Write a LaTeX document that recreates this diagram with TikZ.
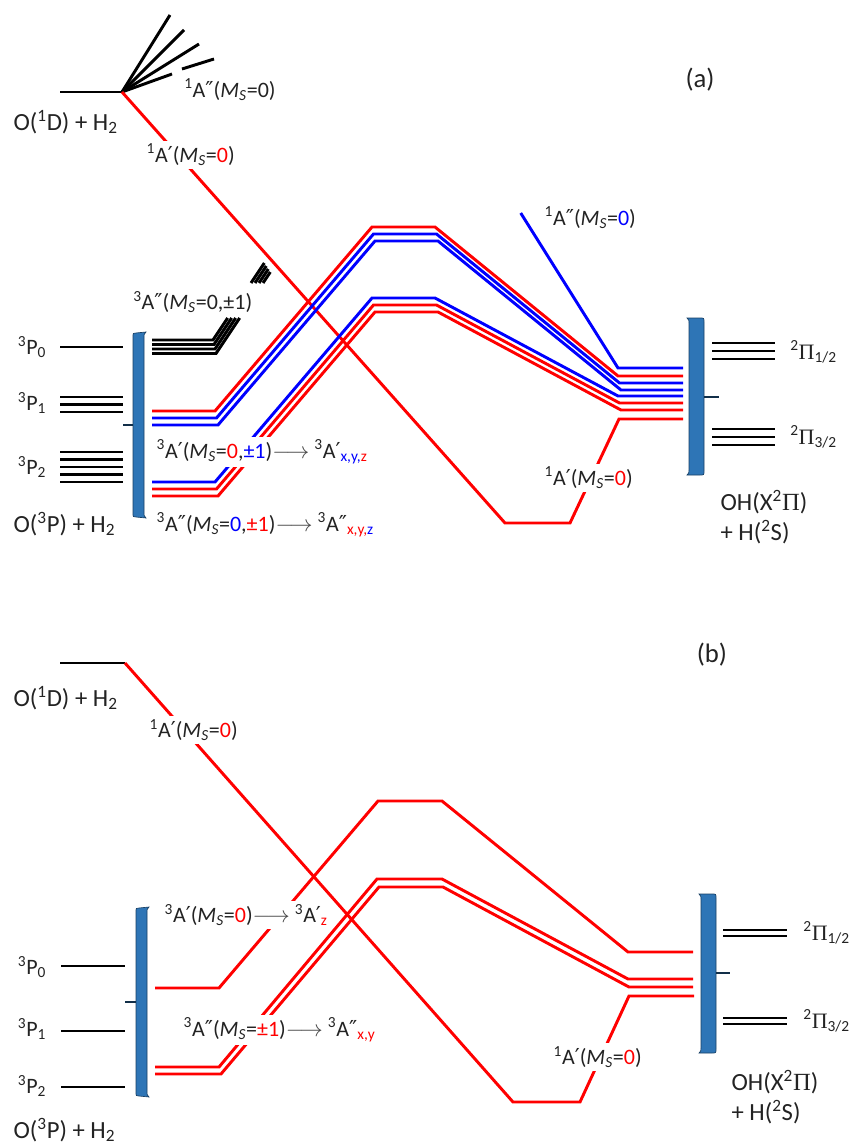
\documentclass[tikz,border=0pt]{standalone}
\usepackage{fontspec}
\setmainfont{Carlito}
\newfontfamily\grk{Liberation Serif}
\newfontfamily\djv{DejaVu Sans}
\definecolor{barblue}{RGB}{46,117,182}
\definecolor{lred}{RGB}{255,0,0}
\definecolor{lblue}{RGB}{0,0,255}
\definecolor{txt}{RGB}{35,35,35}
\definecolor{argray}{RGB}{70,70,70}
\newcommand\MS{\textit{M}\textsubscript{\textit{S}}}
\newcommand\pr{{\djv ′}}
\newcommand\dpr{{\djv ″}}
\newcommand\Pig{{\grk Π}}
\newcommand\arr{\textcolor{argray}{$\longrightarrow$}}
\newcommand\R[1]{\textcolor{lred}{#1}}
\newcommand\B[1]{\textcolor{lblue}{#1}}
\tikzset{
  lev/.style={line width=2.2pt},
  rl/.style={lev, draw=lred},
  bl/.style={lev, draw=lblue},
  kl/.style={lev, draw=black},
  lab/.style={font=\fontsize{16.5}{19}\selectfont, text=txt, inner sep=1.5pt},
  wlab/.style={lab, fill=white, inner sep=2.5pt},
  big/.style={font=\fontsize{18.5}{21}\selectfont, text=txt, inner sep=1pt},
  pan/.style={font=\fontsize{20}{22}\selectfont, text=txt},
  bar/.style={fill=barblue, draw=barblue!55!black, line width=0.5pt},
  tick/.style={draw=barblue!40!black, line width=0.8pt}
}
\begin{document}
\begin{tikzpicture}[x=0.75pt, y=-0.75pt]
\useasboundingbox (0,0) rectangle (851,1145);
\fill[white] (0,0) rectangle (851,1145);

%================ PANEL (a) ================
% O(1D) level and fan
\draw[kl] (60,92) -- (122,92);
\draw[kl] (122,92) -- (170,15);
\draw[kl] (122,92) -- (184,30);
\draw[kl] (122,92) -- (199,44);
\draw[kl] (122,92) -- (172,74);
\draw[kl] (182,69) -- (214,59);
% 1A' red long line
\draw[rl] (122,92) -- (505,523) -- (570,523) -- (619,419) -- (683,419);
% 1A'' blue
\draw[bl] (520.7,213) -- (618,368) -- (683,368);
% 3P levels
\draw[kl] (60,347) -- (123,347);
\foreach \y in {397,404.5,412} \draw[kl] (60,\y) -- (123,\y);
\foreach \y in {452,459.5,467,474.5,482} \draw[kl] (60,\y) -- (123,\y);
% 2Pi levels
\foreach \y in {343,351,359,429,437,445} \draw[kl] (712,\y) -- (775,\y);
% 3A'' black lines (lower visible part and upper tick)
\foreach \k in {0,1,2,3}{
  \pgfmathsetmacro\yy{340+4.5*\k}
  \pgfmathsetmacro\xx{213+\k}
  \pgfmathsetmacro\xa{\xx+(\yy-318)/1.5}
  \pgfmathsetmacro\xb{\xx+(\yy-283)/1.5}
  \pgfmathsetmacro\ye{263+3*\k}
  \pgfmathsetmacro\xc{\xx+(\yy-\ye)/1.5}
  \draw[kl] (152,\yy) -- (\xx,\yy) -- (\xa,318);
  \draw[kl] (\xb,283) -- (\xc,\ye);
}
% upper group
\draw[rl] (152,411) -- (215,411) -- (372,227) -- (435,227) -- (618,376) -- (683,376);
\draw[bl] (152,418) -- (216.5,418) -- (373.5,234) -- (436.5,234) -- (619.5,383) -- (683,383);
\draw[bl] (152,425) -- (218,425) -- (375,241) -- (438,241) -- (621,390) -- (683,390);
% lower group
\draw[bl] (152,482) -- (215,482) -- (372,298) -- (435,298) -- (618,396) -- (683,396);
\draw[rl] (152,489) -- (216.5,489) -- (373.5,305) -- (436.5,305) -- (619.5,403) -- (683,403);
\draw[rl] (152,496) -- (218,496) -- (375,312) -- (438,312) -- (621,410) -- (683,410);
% bars
\filldraw[bar] (136,333) -- (146,332) .. controls (144,334) .. (144,338) -- (144,512) .. controls (144,516) .. (146,518) -- (136,517) .. controls (133,517) .. (133,513) -- (133,337) .. controls (133,333) .. (136,333) -- cycle;
\draw[tick] (133,425) -- (123,425);
\filldraw[bar] (687,318) .. controls (689,320) .. (689,324) -- (689,470) .. controls (689,473) .. (687,475) -- (700,475) .. controls (704,475) .. (704,471) -- (704,322) .. controls (704,318) .. (700,318) -- cycle;
\draw[tick] (704,397) -- (719,397);

% labels (a)
\node[big, anchor=west] (o1da) at (12,122) {O(\textsuperscript{1}D) + H\textsubscript{2}};
\node[lab, anchor=west] (a1ppa) at (182,90) {\textsuperscript{1}A\dpr(\MS=0)};
\node[wlab, anchor=west] (a1pa) at (143,155) {\textsuperscript{1}A\pr(\MS=\R{0})};
\node[pan] (pa) at (700,80) {(a)};
\node[wlab, anchor=west] (a1ppb) at (541,218) {\textsuperscript{1}A\dpr(\MS=\B{0})};
\node[lab] (p0a) at (32,347) {\textsuperscript{3}P\textsubscript{0}};
\node[lab] (p1a) at (32,403) {\textsuperscript{3}P\textsubscript{1}};
\node[lab] (p2a) at (32,467) {\textsuperscript{3}P\textsubscript{2}};
\node[big, anchor=west] (o3pa) at (12,524) {O(\textsuperscript{3}P) + H\textsubscript{2}};
\node[lab, anchor=west] (t3ppa) at (131,302) {\textsuperscript{3}A\dpr(\MS=0,±1)};
\node[wlab, anchor=west] (t3pa) at (153,452) {\textsuperscript{3}A\pr(\MS=\R{0},\B{±1})\arr\ \textsuperscript{3}A\pr\textsubscript{\B{x,y,}\R{z}}};
\node[wlab, anchor=west] (t3ppb) at (153,525) {\textsuperscript{3}A\dpr(\MS=\B{0},\R{±1})\arr\ \textsuperscript{3}A\dpr\textsubscript{\R{x,y,}\B{z}}};
\node[wlab, anchor=west] (a1pc) at (541,478) {\textsuperscript{1}A\pr(\MS=\R{0})};
\node[lab, anchor=west] (pi1a) at (788,352) {\textsuperscript{2}\Pig\textsubscript{1/2}};
\node[lab, anchor=west] (pi3a) at (788,437) {\textsuperscript{2}\Pig\textsubscript{3/2}};
\node[big, anchor=west] (oha) at (719,502) {OH(X\textsuperscript{2}\Pig)};
\node[big, anchor=west] (ha) at (719,532) {+ H(\textsuperscript{2}S)};

%================ PANEL (b) ================
\draw[kl] (60,663) -- (125,663);
\draw[rl] (125,663) -- (513,1102) -- (580,1102) -- (629,996) -- (694,996);
\draw[rl] (155,988) -- (219,988) -- (378,801) -- (442,801) -- (628,952) -- (693,952);
\draw[rl] (155,1067) -- (219,1067) -- (377,879) -- (442,879) -- (628,979) -- (693,979);
\draw[rl] (155,1074) -- (221,1074) -- (379,887) -- (443,887) -- (629,987) -- (693,987);
\foreach \y in {966,1031,1087} \draw[kl] (61,\y) -- (125,\y);
\foreach \y in {930,936,1018,1024} \draw[kl] (723,\y) -- (787,\y);
\filldraw[bar] (139,908) -- (149,907) .. controls (147,909) .. (147,913) -- (147,1091) .. controls (147,1095) .. (149,1097) -- (139,1096) .. controls (136,1096) .. (136,1092) -- (136,912) .. controls (136,908) .. (139,908) -- cycle;
\draw[tick] (136,1002) -- (125,1002);
\filldraw[bar] (699,894) .. controls (701,896) .. (701,900) -- (701,1048) .. controls (701,1051) .. (699,1053) -- (712,1053) .. controls (716,1053) .. (716,1049) -- (716,898) .. controls (716,894) .. (712,894) -- cycle;
\draw[tick] (716,973) -- (730,973);

\node[big, anchor=west] (o1db) at (12,698) {O(\textsuperscript{1}D) + H\textsubscript{2}};
\node[wlab, anchor=west] (b1pa) at (146,730) {\textsuperscript{1}A\pr(\MS=\R{0})};
\node[pan] (pb) at (712,655) {(b)};
\node[wlab, anchor=west] (b3pa) at (161,915) {\textsuperscript{3}A\pr(\MS=\R{0})\arr\ \textsuperscript{3}A\pr\textsubscript{\R{z}}};
\node[wlab, anchor=west] (b3ppa) at (180,1030) {\textsuperscript{3}A\dpr(\MS=\R{±1})\arr\ \textsuperscript{3}A\dpr\textsubscript{\R{x,y}}};
\node[lab] (p0b) at (32,967) {\textsuperscript{3}P\textsubscript{0}};
\node[lab] (p1b) at (32,1029) {\textsuperscript{3}P\textsubscript{1}};
\node[lab] (p2b) at (32,1086) {\textsuperscript{3}P\textsubscript{2}};
\node[big, anchor=west] (o3pb) at (12,1130) {O(\textsuperscript{3}P) + H\textsubscript{2}};
\node[wlab, anchor=west] (b1pc) at (550,1057) {\textsuperscript{1}A\pr(\MS=\R{0})};
\node[lab, anchor=west] (pi1b) at (801,933) {\textsuperscript{2}\Pig\textsubscript{1/2}};
\node[lab, anchor=west] (pi3b) at (801,1021) {\textsuperscript{2}\Pig\textsubscript{3/2}};
\node[big, anchor=west] (ohb) at (730,1082) {OH(X\textsuperscript{2}\Pig)};
\node[big, anchor=west] (hb) at (730,1112) {+ H(\textsuperscript{2}S)};
\end{tikzpicture}
\end{document}
